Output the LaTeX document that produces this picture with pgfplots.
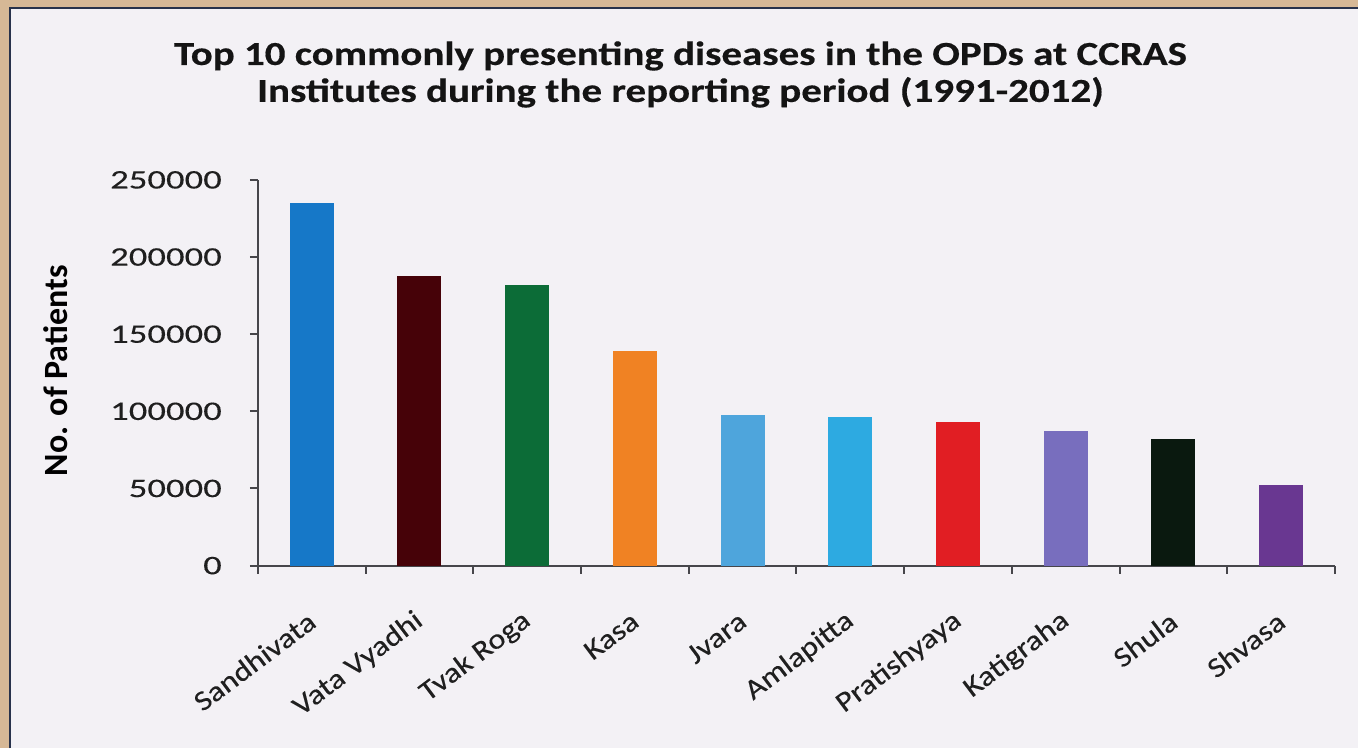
\documentclass[border=0pt]{standalone}
\usepackage{fontspec}
\setmainfont{Carlito}[FakeStretch=1.37, FakeBold=0.2]
\newfontfamily\plainfont{Carlito}
\newfontfamily\labfont{Carlito}[FakeStretch=1.15, FakeBold=0.2]
\newfontfamily\titlefont{Carlito}[FakeStretch=1.22, FakeBold=0.4]
\usepackage{pgfplots}
\pgfplotsset{compat=1.18}
\definecolor{beige}{RGB}{214,184,150}
\definecolor{card}{RGB}{243,241,245}
\definecolor{edge}{RGB}{40,50,75}
\definecolor{axisgray}{RGB}{70,70,75}
\definecolor{cA}{RGB}{22,120,200}
\definecolor{cB}{RGB}{70,2,8}
\definecolor{cC}{RGB}{12,108,55}
\definecolor{cD}{RGB}{240,130,35}
\definecolor{cE}{RGB}{78,165,220}
\definecolor{cF}{RGB}{45,170,225}
\definecolor{cG}{RGB}{225,30,35}
\definecolor{cH}{RGB}{120,110,190}
\definecolor{cI}{RGB}{10,25,15}
\definecolor{cJ}{RGB}{105,55,145}
\begin{document}
\begin{tikzpicture}
\fill[beige] (0pt,0pt) rectangle (679.5pt,-374.5pt);
\fill[card] (5pt,-4pt) rectangle (679.5pt,-374.5pt);
\draw[edge, line width=1pt] (5pt,-374.5pt) -- (5pt,-4pt) -- (679.5pt,-4pt);
\node[anchor=base, font=\titlefont\bfseries\fontsize{16.8}{20}\selectfont, text=black!92] at (340.5pt,-32.5pt) {Top 10 commonly presenting diseases in the OPDs at CCRAS};
\node[anchor=base, font=\titlefont\bfseries\fontsize{16.8}{20}\selectfont, text=black!92] at (340.5pt,-51pt) {Institutes during the reporting period (1991-2012)};
\begin{axis}[
  at={(129pt,-283pt)}, anchor=south west,
  scale only axis, width=539pt, height=193pt,
  xmin=-0.5, xmax=9.5, ymin=0, ymax=250000,
  axis lines=left,
  axis line style={-, draw=axisgray, line width=1pt},
  tick align=outside,
  major tick length=4pt, minor tick length=4pt,
  tick style={draw=axisgray, line width=1pt},
  xtick={0,...,9},
  xticklabels={Sandhivata,Vata Vyadhi,Tvak Roga,Kasa,Jvara,Amlapitta,Pratishyaya,Katigraha,Shula,Shvasa},
  major x tick style={draw=none},
  minor xtick={-0.5,0.5,...,9.5},
  ytick={0,50000,100000,150000,200000,250000},
  scaled y ticks=false,
  /pgf/number format/.cd, fixed, 1000 sep={}, assume math mode=true,
  /pgfplots/.cd,
  yticklabel style={font=\fontsize{13.4}{15}\selectfont, text=black!88, xshift=-10.5pt},
  xticklabel style={font=\labfont\fontsize{14.1}{16}\selectfont, text=black!88, xshift=3pt, yshift=-20pt, rotate=37, anchor=east},
  ylabel={\plainfont\bfseries\fontsize{17}{19}\selectfont No. of Patients},
  ylabel style={at={(axis description cs:-0.188,0.505)}, anchor=center, rotate=0},
  clip=false,
]
\addplot[ybar, bar width=22pt, bar shift=0pt, fill=cA, draw=none] coordinates {(0,235000)};
\addplot[ybar, bar width=22pt, bar shift=0pt, fill=cB, draw=none] coordinates {(1,188000)};
\addplot[ybar, bar width=22pt, bar shift=0pt, fill=cC, draw=none] coordinates {(2,182000)};
\addplot[ybar, bar width=22pt, bar shift=0pt, fill=cD, draw=none] coordinates {(3,139000)};
\addplot[ybar, bar width=22pt, bar shift=0pt, fill=cE, draw=none] coordinates {(4,97500)};
\addplot[ybar, bar width=22pt, bar shift=0pt, fill=cF, draw=none] coordinates {(5,96500)};
\addplot[ybar, bar width=22pt, bar shift=0pt, fill=cG, draw=none] coordinates {(6,93000)};
\addplot[ybar, bar width=22pt, bar shift=0pt, fill=cH, draw=none] coordinates {(7,87500)};
\addplot[ybar, bar width=22pt, bar shift=0pt, fill=cI, draw=none] coordinates {(8,82000)};
\addplot[ybar, bar width=22pt, bar shift=0pt, fill=cJ, draw=none] coordinates {(9,52500)};
\end{axis}
\end{tikzpicture}
\end{document}
